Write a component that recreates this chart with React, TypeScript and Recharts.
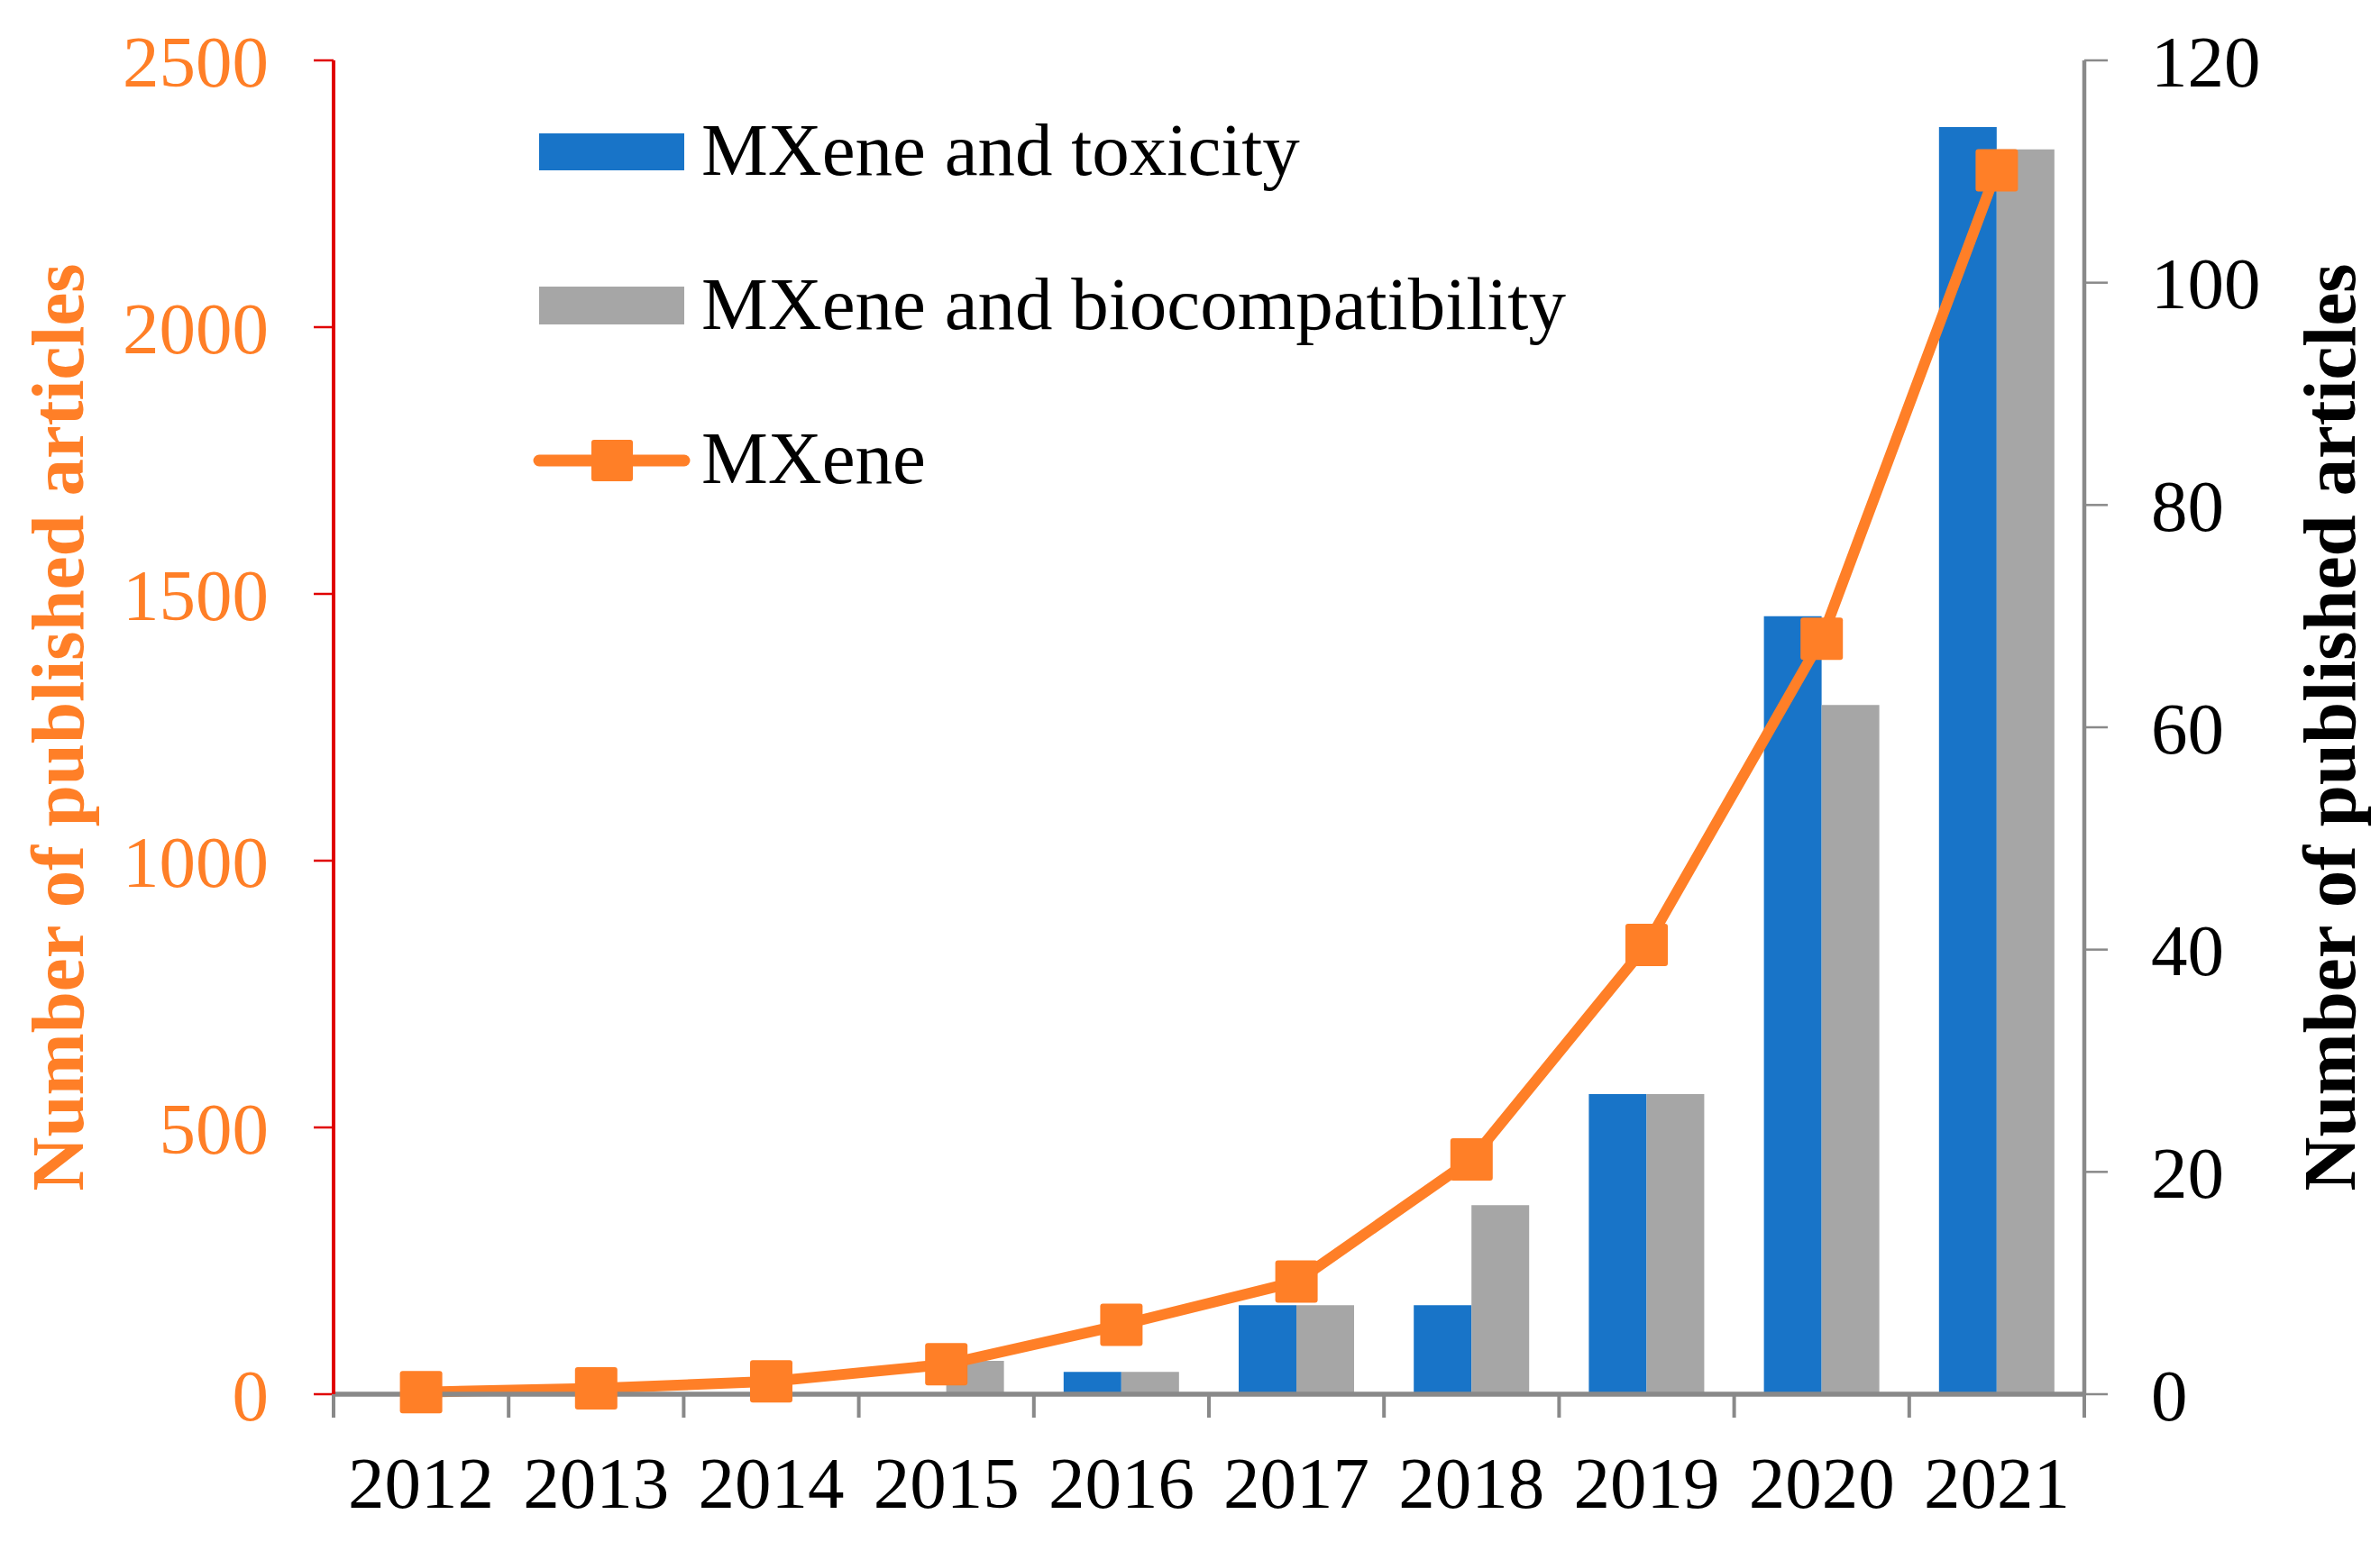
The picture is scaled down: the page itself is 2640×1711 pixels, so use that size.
import React from "react";
import {
  Bar,
  ComposedChart,
  Legend,
  Line,
  XAxis,
  YAxis
} from "recharts";

const years = ["2012", "2013", "2014", "2015", "2016", "2017", "2018", "2019", "2020", "2021"];
const toxicity = [0, 0, 0, 0, 2, 8, 8, 27, 70, 114];
const biocompat = [0, 0, 0, 3, 2, 8, 17, 27, 62, 112];
const mxene = [4, 11, 24, 56, 130, 211, 440, 842, 1416, 2294];

const leftTicks = [0, 500, 1000, 1500, 2000, 2500];
const rightTicks = [0, 20, 40, 60, 80, 100, 120];

const BLUE = "#1874c8";
const GRAY = "#a6a6a6";
const ORANGE = "#ff7f27";
const RED = "#e00000";
const AXIS = "#898989";
const FONT = "'Liberation Serif', 'Times New Roman', serif";

const W = 2640;
const H = 1711;
const LEFT_W = 370;
const RIGHT_W = 328;
const TOP = 67;
const X_H = 164;
const band = (W - LEFT_W - RIGHT_W) / years.length;

const data = years.map((y, i) => ({
  year: y,
  toxicity: toxicity[i],
  biocompat: biocompat[i],
  mxene: mxene[i]
}));

function XTick(props: any) {
  const { x, y, payload, index } = props;
  return (
    <g>
      <line x1={x - band / 2} x2={x - band / 2} y1={y} y2={y + 26} stroke={AXIS} strokeWidth={4} />
      {index === years.length - 1 && (
        <line x1={x + band / 2} x2={x + band / 2} y1={y} y2={y + 26} stroke={AXIS} strokeWidth={4} />
      )}
      <text x={x} y={y + 126} textAnchor="middle" fontFamily={FONT} fontSize={81} fill="#000">
        {payload.value}
      </text>
    </g>
  );
}

function LeftTitle(props: any) {
  const vb = props.viewBox;
  const x = vb.x + 92;
  const y = vb.y + vb.height / 2;
  return (
    <text
      x={x}
      y={y}
      transform={`rotate(-90 ${x} ${y})`}
      textAnchor="middle"
      fontFamily={FONT}
      fontWeight="bold"
      fontSize={83}
      fill={ORANGE}
    >
      Number of published articles
    </text>
  );
}

function RightTitle(props: any) {
  const vb = props.viewBox;
  const x = vb.x + 300;
  const y = vb.y + vb.height / 2;
  return (
    <text
      x={x}
      y={y}
      transform={`rotate(-90 ${x} ${y})`}
      textAnchor="middle"
      fontFamily={FONT}
      fontWeight="bold"
      fontSize={83}
      fill="#000"
    >
      Number of published articles
    </text>
  );
}

function SquareDot(props: any) {
  const { cx, cy, index } = props;
  if (cx == null || cy == null) return <g key={index} />;
  return <rect key={index} x={cx - 23.5} y={cy - 23.5} width={47} height={47} rx={3} fill={ORANGE} />;
}

function LegendBox() {
  const text = { fontFamily: FONT, fontSize: 83, fill: "#000" } as const;
  return (
    <svg width={1200} height={460}>
      <rect x={38} y={48} width={161} height={41} fill={BLUE} />
      <text x={218} y={94} {...text}>MXene and toxicity</text>
      <rect x={38} y={218} width={161} height={42} fill={GRAY} />
      <text x={218} y={265} {...text}>MXene and biocompatibility</text>
      <line x1={38} x2={199} y1={411} y2={411} stroke={ORANGE} strokeWidth={13} strokeLinecap="round" />
      <rect x={96} y={388} width={46} height={46} rx={3} fill={ORANGE} />
      <text x={218} y={436} {...text}>MXene</text>
    </svg>
  );
}

export default function App() {
  return (
    <div style={{ position: "absolute", left: 0, top: 0, width: W, height: H, background: "#fff" }}>
      <ComposedChart
        width={W}
        height={H}
        data={data}
        margin={{ top: TOP, right: 0, bottom: 0, left: 0 }}
        barCategoryGap="17%"
        barGap={0}
      >
        <XAxis
          dataKey="year"
          height={X_H}
          tickSize={0}
          tickMargin={0}
          tickLine={false}
          axisLine={{ stroke: AXIS, strokeWidth: 5.5 }}
          tick={<XTick />}
          interval={0}
        />
        <YAxis
          yAxisId="left"
          orientation="left"
          width={LEFT_W}
          domain={[0, 2500]}
          ticks={leftTicks}
          interval={0}
          tickSize={22}
          tickMargin={50}
          axisLine={{ stroke: RED, strokeWidth: 4 }}
          tickLine={{ stroke: RED, strokeWidth: 2.5 }}
          tick={{ fill: ORANGE, fontSize: 81, fontFamily: FONT }}
          label={<LeftTitle />}
        />
        <YAxis
          yAxisId="right"
          orientation="right"
          width={RIGHT_W}
          domain={[0, 120]}
          ticks={rightTicks}
          interval={0}
          tickSize={26}
          tickMargin={48}
          axisLine={{ stroke: AXIS, strokeWidth: 4.5 }}
          tickLine={{ stroke: AXIS, strokeWidth: 2.5 }}
          tick={{ fill: "#000", fontSize: 81, fontFamily: FONT }}
          label={<RightTitle />}
        />
        <Legend
          layout="vertical"
          align="center"
          verticalAlign="middle"
          content={() => <LegendBox />}
          wrapperStyle={{ left: 560, top: 100, width: 1200, height: 460 }}
        />
        <Bar yAxisId="right" dataKey="toxicity" name="MXene and toxicity" fill={BLUE} isAnimationActive={false} />
        <Bar yAxisId="right" dataKey="biocompat" name="MXene and biocompatibility" fill={GRAY} isAnimationActive={false} />
        <Line
          yAxisId="left"
          dataKey="mxene"
          name="MXene"
          type="linear"
          stroke={ORANGE}
          strokeWidth={12}
          dot={SquareDot}
          activeDot={false}
          isAnimationActive={false}
        />
      </ComposedChart>
    </div>
  );
}
